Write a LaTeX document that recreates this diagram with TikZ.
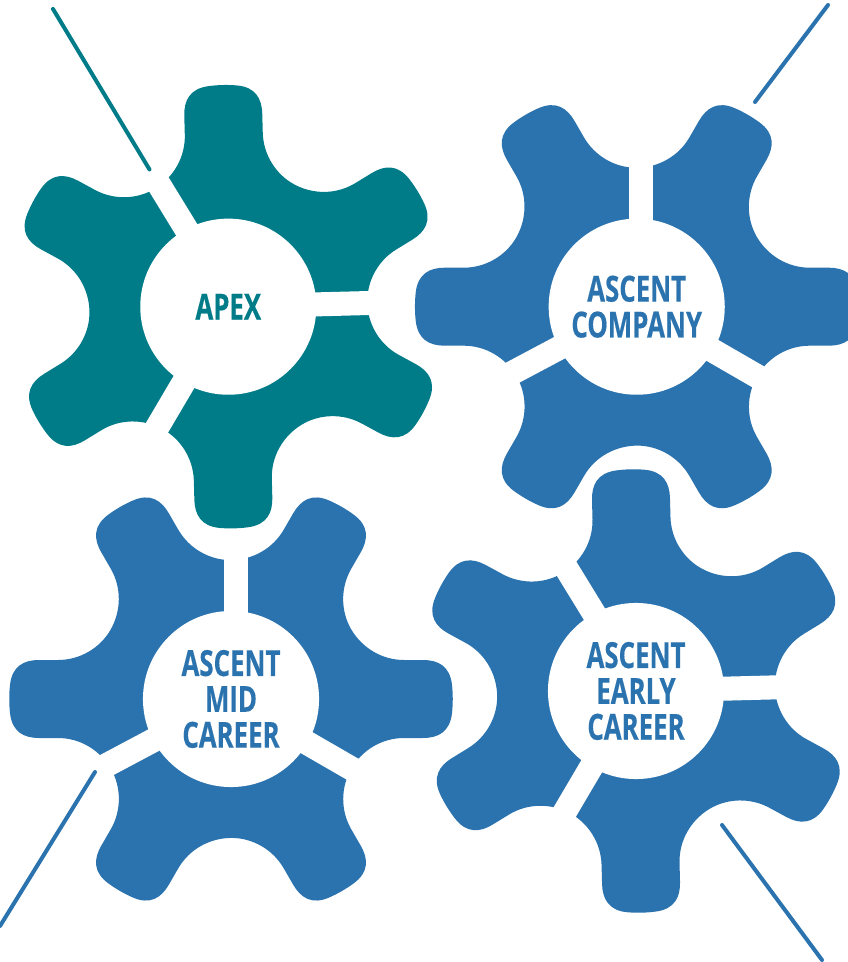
\documentclass[tikz,border=0pt]{standalone}
\usepackage{fontspec}
\setmainfont[FakeStretch=0.72,BoldFeatures={FakeStretch=0.72,FakeBold=0.35}]{Open Sans}
\definecolor{gearblue}{HTML}{2B73AE}
\definecolor{gearteal}{HTML}{007C89}
\newcommand\toothpath[1]{%
  .. controls ([rotate=#1]131,-51) and ([rotate=#1]151,-39) .. ([rotate=#1]173,-39)
  -- ([rotate=#1]192,-39)
  .. controls ([rotate=#1]207,-39) and ([rotate=#1]219,-33) .. ([rotate=#1]221,-14)
  .. controls ([rotate=#1]222,-5) and ([rotate=#1]222,5) .. ([rotate=#1]221,14)
  .. controls ([rotate=#1]219,33) and ([rotate=#1]207,39) .. ([rotate=#1]192,39)
  -- ([rotate=#1]173,39)
  .. controls ([rotate=#1]151,39) and ([rotate=#1]131,51) .. ([rotate=#1]120,70)
}
% x, y, rotation, colour, name, text
\newcommand\gearshape[6]{%
  \begin{scope}[shift={(#1,-#2)},rotate=#3]
    \fill[#4] (120,-70) \toothpath{0} \toothpath{60} \toothpath{120}
      \toothpath{180} \toothpath{240} \toothpath{300} -- cycle;
    \draw[slit] (4.7,60) -- (4.7,156);
    \draw[slit] (208:60) -- (208:156);
    \draw[slit] (330:60) -- (330:156);
  \end{scope}
  \node[hub,text=#4] (#5) at (#1,-#2) {#6};
}
\tikzset{
  slit/.style={white,line width=0.24cm},
  hub/.style={circle,fill=white,minimum size=1.76cm,inner sep=0pt,align=center,
    font=\bfseries\fontsize{10.2}{10.2}\selectfont},
  leader/.style={line width=0.04cm,line cap=round}
}
\begin{document}
\begin{tikzpicture}[x=0.01cm,y=0.01cm]
  \useasboundingbox[fill=white] (0,0) rectangle (847,-962);
  \gearshape{228.3}{306.7}{31.5}{gearteal}{apex}{APEX}
  \gearshape{636.7}{306.7}{0}{gearblue}{company}{ASCENT\\COMPANY}
  \gearshape{231}{699}{0}{gearblue}{mid}{ASCENT\\MID\\CAREER}
  \gearshape{636}{691}{31.5}{gearblue}{early}{ASCENT\\EARLY\\CAREER}
  \coordinate (a1) at (53,-9);
  \coordinate (a2) at (149.5,-169.5);
  \coordinate (b1) at (828,-5);
  \coordinate (b2) at (755,-102);
  \coordinate (c1) at (95,-772);
  \coordinate (c2) at (0,-926);
  \coordinate (d1) at (722,-825);
  \coordinate (d2) at (822,-960);
  \draw[leader,gearteal] (a1) -- (a2);
  \draw[leader,gearblue] (b1) -- (b2);
  \draw[leader,gearblue] (c1) -- (c2);
  \draw[leader,gearblue] (d1) -- (d2);
\end{tikzpicture}
\end{document}
